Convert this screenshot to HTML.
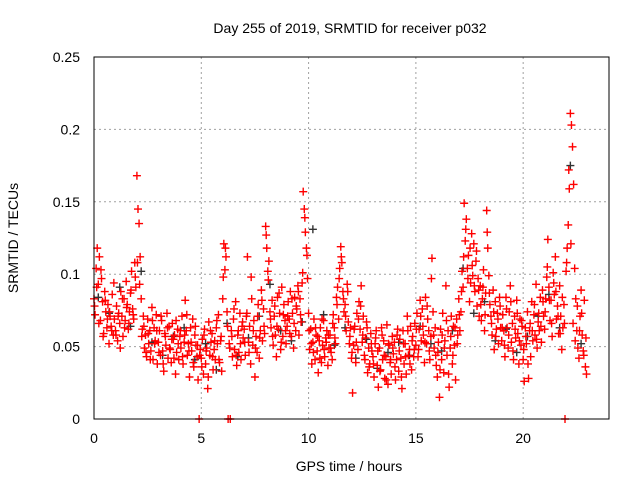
<!DOCTYPE html>
<html><head><meta charset="utf-8"><style>
body{margin:0;background:#fff;}
svg{display:block;font-family:"Liberation Sans",sans-serif;}
</style></head><body>
<svg id="chart" width="640" height="480">
<text x="350" y="33" font-size="14" text-anchor="middle">Day 255 of 2019, SRMTID for receiver p032</text>
<text x="349" y="471" font-size="14" text-anchor="middle">GPS time / hours</text>
<text transform="translate(18,238) rotate(-90)" font-size="14" text-anchor="middle">SRMTID / TECUs</text>
<g id="grid"></g>
<g id="ticks"></g>
<g id="black"></g>
<g id="red"></g>
<rect x="94" y="57" width="515" height="362" fill="none" stroke="#000" stroke-width="1"/>
</svg>
<script>
const xTicks=[0,5,10,15,20];
const yTicks=[0,0.05,0.1,0.15,0.2,0.25];
const yTickLabels=["0","0.05","0.1","0.15","0.2","0.25"];
const redStep=0.05;
const redValues=[
.083,.072,.104,.118,.093,.112,.068,.097,.081,.059,.088,.074,.063,.079,.052,.071,.064,.086,.058,.069,
.061,.078,.054,.073,.066,.088,.071,.057,.083,.068,.095,.079,.062,.074,.087,.102,.076,.069,.108,.091,
.168,.145,.135,.112,.083,.062,.071,.049,.058,.043,.069,.052,.061,.047,.077,.041,.063,.054,.072,.038,
.053,.061,.044,.068,.047,.033,.059,.051,.073,.042,.064,.048,.039,.066,.055,.058,.031,.046,.062,.041,
.057,.049,.071,.038,.053,.082,.061,.044,.052,.029,.063,.047,.069,.036,.058,.051,.043,.027,0,.048,
.042,.055,.031,.062,.038,.049,.021,.067,.044,.053,.059,.034,.048,.041,.063,.052,.072,.039,.054,.033,
.083,.121,.103,.112,.074,0,.052,0,.061,.043,.069,.048,.081,.037,.058,.046,.073,.041,.064,.056,
.062,.044,.071,.112,.053,.064,.038,.083,.051,.068,.029,.057,.046,.079,.042,.061,.089,.054,.076,.059,
.133,.118,.102,.109,.074,.063,.082,.051,.071,.058,.043,.084,.062,.073,.048,.091,.057,.079,.068,.052,
.064,.081,.069,.088,.057,.073,.049,.084,.061,.076,.092,.058,.083,.067,.094,.157,.145,.129,.118,.097,
.073,.048,.062,.038,.053,.069,.041,.058,.047,.032,.054,.063,.039,.051,.068,.043,.056,.061,.037,.049,
.058,.046,.041,.072,.063,.052,.084,.091,.069,.104,.119,.108,.088,.074,.079,.061,.093,.067,.052,.063,
.042,.018,.051,.064,.039,.073,.048,.081,.062,.092,.053,.071,.044,.056,.067,.032,.049,.038,.059,.047,
.043,.029,.052,.061,.037,.022,.049,.034,.063,.041,.054,.028,.043,.065,.024,.051,.039,.031,.057,.045,
.053,.027,.041,.062,.033,.055,.042,.021,.061,.038,.052,.031,.071,.044,.048,.064,.034,.057,.043,.066,
.051,.073,.043,.062,.082,.054,.076,.058,.039,.084,.052,.069,.061,.041,.057,.111,.074,.049,.063,.037,
.029,.053,.015,.062,.041,.073,.032,.054,.092,.044,.061,.022,.049,.071,.038,.064,.051,.027,.069,.058,
.083,.061,.074,.102,.091,.149,.123,.138,.104,.113,.081,.094,.128,.099,.121,.088,.109,.078,.097,.071,
.092,.068,.083,.103,.061,.087,.144,.118,.099,.079,.071,.058,.089,.048,.081,.062,.073,.052,.084,.063,
.054,.072,.061,.043,.084,.063,.049,.074,.092,.053,.066,.041,.071,.056,.082,.059,.038,.069,.051,.064,
.041,.026,.063,.052,.074,.028,.061,.043,.081,.054,.072,.058,.093,.049,.067,.061,.084,.053,.089,.071,
.062,.083,.098,.124,.091,.068,.082,.057,.101,.086,.112,.069,.078,.059,.092,.071,.048,.063,.079,0,
.102,.118,.134,.159,.211,.203,.188,.162,.104,.083,.061,.049,.042,.071,.089,.058,.047,.082,.036,.031];
const red2Start=0.025;
const red2Step=0.1;
const red2Values=[
.078,.091,.066,.103,.057,.082,.069,.074,.061,.094,
.058,.071,.049,.083,.063,.077,.066,.089,.072,.098,
.108,.093,.057,.064,.046,.059,.041,.068,.052,.061,
.046,.071,.038,.057,.063,.049,.055,.042,.068,.052,
.061,.043,.058,.072,.047,.053,.039,.064,.051,.044,
.036,.058,.047,.029,.061,.043,.054,.068,.041,.057,
.098,.118,.064,.049,.057,.076,.044,.061,.052,.067,
.053,.073,.046,.098,.061,.049,.071,.056,.082,.064,
.127,.096,.069,.057,.078,.064,.087,.053,.072,.061,
.071,.059,.083,.066,.078,.088,.072,.101,.139,.113,
.061,.052,.046,.063,.057,.042,.069,.048,.053,.058,
.049,.066,.056,.079,.097,.112,.083,.071,.088,.057,
.046,.062,.053,.069,.078,.058,.041,.063,.036,.052,
.038,.056,.047,.033,.058,.044,.027,.052,.041,.049,
.036,.058,.047,.029,.052,.043,.061,.038,.054,.048,
.062,.048,.071,.064,.053,.078,.047,.097,.058,.044,
.046,.034,.058,.049,.068,.031,.057,.044,.063,.052,
.072,.088,.112,.131,.097,.118,.106,.092,.116,.089,
.079,.091,.072,.129,.087,.066,.074,.057,.069,.078,
.063,.051,.076,.058,.081,.047,.062,.073,.054,.068,
.048,.057,.038,.066,.061,.079,.055,.073,.064,.081,
.074,.105,.082,.066,.094,.088,.071,.059,.084,.066,
.108,.172,.121,.066,.054,.078,.061,.073,.044,.056];
const blackStep=0.5;
const blackValues=[.084,.073,.091,.064,.102,.053,.044,.057,.063,.041,.052,.034,.066,.043,.056,.071,.093,.061,.054,.067,.131,.072,.051,.063,.042,.055,.035,.046,.053,.044,.064,.052,.047,.061,.104,.073,.081,.054,.062,.046,.057,.071,.086,.063,.175,.052];

const X0=94,X1=609,Y0=419,Y1=57;
const xs=v=>X0+(v/24)*(X1-X0);
const ys=v=>Y0-(v/0.25)*(Y0-Y1);
const NS="http://www.w3.org/2000/svg";
function mk(tag,attrs,parent){const e=document.createElementNS(NS,tag);for(const k in attrs)e.setAttribute(k,attrs[k]);parent.appendChild(e);return e;}
const grid=document.getElementById('grid'),ticks=document.getElementById('ticks');
xTicks.forEach(t=>{
  const x=xs(t);
  if(t>0){const g=mk('line',{x1:x,x2:x,y1:Y0,y2:Y1,stroke:'#a0a0a0','stroke-dasharray':'2,3'},grid);
  
  }
  const l=mk('text',{x:x,y:Y0+24,'font-size':14,'text-anchor':'middle'},ticks);l.textContent=t;
  
  
});
yTicks.forEach((t,i)=>{
  const y=ys(t);
  if(i>0&&i<yTicks.length-1){const g=mk('line',{x1:X0,x2:X1,y1:y,y2:y,stroke:'#a0a0a0','stroke-dasharray':'2,3'},grid);
  
  }
  const l=mk('text',{x:X0-14,y:y+5,'font-size':14,'text-anchor':'end'},ticks);l.textContent=yTickLabels[i];
  
  
});
function plus(parent,x,y,color){
  return mk('path',{d:`M${x-4} ${y}h8M${x} ${y-4}v8`,stroke:color,'stroke-width':1.4,fill:'none'},parent);
}
const bl=document.getElementById('black');
blackValues.forEach((v,i)=>{
  const p=plus(bl,xs(i*blackStep+0.2),ys(v),'#333');
  
  
});
const rd=document.getElementById('red');
redValues.forEach((v,i)=>{
  const p=plus(rd,xs(i*redStep),ys(v),'#ff0000');
  
  
});
red2Values.forEach((v,i)=>{
  const p=plus(rd,xs(red2Start+i*red2Step),ys(v),'#ff0000');
  
  
});
</script>
</body></html>
